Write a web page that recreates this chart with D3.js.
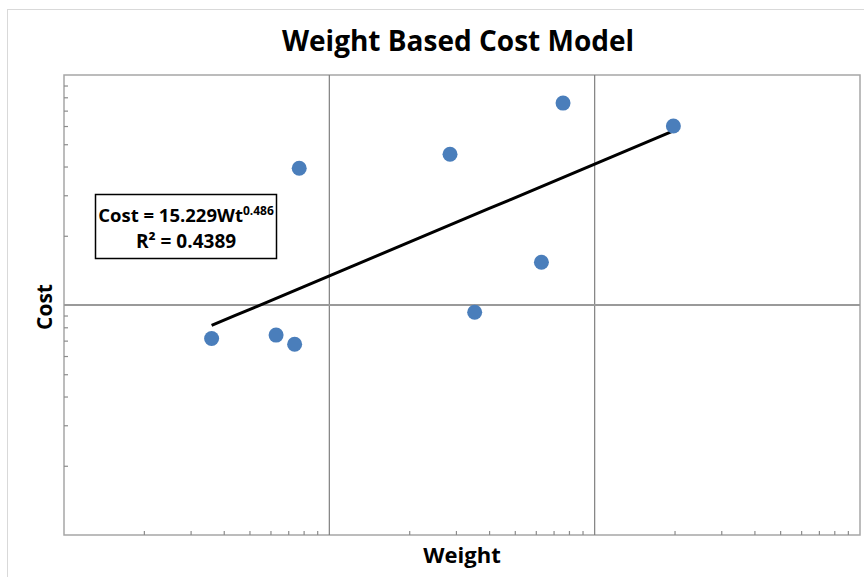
<!DOCTYPE html>
<html>
<head>
<meta charset="utf-8">
<script src="https://cdn.jsdelivr.net/npm/d3@7"></script>
<style>
  body { margin: 0; background: #fff; }
  text { font-family: "Open Sans", "DejaVu Sans", sans-serif; font-weight: bold; fill: #000; }
</style>
</head>
<body>
<svg id="chart" width="864" height="577"></svg>
<script>
// data (log-log scatter)
var weights = [3600, 6300, 7400, 7700, 28500, 35300, 63000, 76000, 198000]
var costs = [715, 740, 675, 3930, 4520, 930, 1535, 7550, 6000]

// power fit shown in the label
var fitCoef = 15.229
var fitExp = 0.486
var rSquared = '0.4389'

var xDomain = [1000, 1000000]
var yDomain = [100, 10000]

var svg = d3.select('#chart')
var plot = { left: 64, right: 860, top: 75, bottom: 535 }

var x = d3.scaleLog().domain(xDomain).range([plot.left, plot.right])
var y = d3.scaleLog().domain(yDomain).range([plot.bottom, plot.top])

// outer chart frame
svg.append('rect')
  .attr('x', 7.5).attr('y', 9.5).attr('width', 880).attr('height', 600)
  .attr('fill', 'none').attr('stroke', '#d9d9d9')

svg.append('text')
  .attr('x', 458).attr('y', 51)
  .attr('text-anchor', 'middle')
  .style('font-size', '28px')
  .text('Weight Based Cost Model')

// plot frame
svg.append('rect')
  .attr('x', plot.left).attr('y', plot.top)
  .attr('width', plot.right - plot.left).attr('height', plot.bottom - plot.top)
  .attr('fill', 'none').attr('stroke', '#a6a6a6').attr('stroke-width', 1.5)

// major gridlines at the decades inside the plot
var xMajor = [10000, 100000]
var yMajor = [1000]
svg.append('g').selectAll('line').data(xMajor).join('line')
  .attr('x1', d => x(d)).attr('x2', d => x(d))
  .attr('y1', plot.top).attr('y2', plot.bottom)
  .attr('stroke', '#7f7f7f').attr('stroke-width', 1.2)
svg.append('g').selectAll('line').data(yMajor).join('line')
  .attr('x1', plot.left).attr('x2', plot.right)
  .attr('y1', d => y(d)).attr('y2', d => y(d))
  .attr('stroke', '#9a9a9a').attr('stroke-width', 2)

// minor ticks, no labels
var xAxis = d3.axisTop(x).tickSizeInner(4).tickSizeOuter(0).tickFormat('')
  .tickValues(x.ticks().filter(d => xMajor.indexOf(d) < 0 && d > xDomain[0] && d < xDomain[1]))
var gx = svg.append('g').attr('transform', 'translate(0,' + plot.bottom + ')').call(xAxis)
gx.select('.domain').remove()
gx.selectAll('line').attr('stroke', '#8c8c8c').attr('stroke-width', 1.2)

var yAxis = d3.axisRight(y).tickSizeInner(4).tickSizeOuter(0).tickFormat('')
  .tickValues(y.ticks().filter(d => yMajor.indexOf(d) < 0 && d > yDomain[0] && d < yDomain[1]))
var gy = svg.append('g').attr('transform', 'translate(' + plot.left + ',0)').call(yAxis)
gy.select('.domain').remove()
gy.selectAll('line').attr('stroke', '#8c8c8c').attr('stroke-width', 1.2)

// trend line
var xMin = d3.min(weights)
var xMax = d3.max(weights)
var trend = d3.range(0, 21).map(function (i) {
  var w = Math.exp(Math.log(xMin) + (Math.log(xMax) - Math.log(xMin)) * i / 20)
  return [w, fitCoef * Math.pow(w, fitExp)]
})
svg.append('path')
  .datum(trend)
  .attr('d', d3.line().x(d => x(d[0])).y(d => y(d[1])))
  .attr('fill', 'none').attr('stroke', '#000').attr('stroke-width', 3)

// points
svg.append('g').selectAll('circle').data(weights).join('circle')
  .attr('cx', d => x(d))
  .attr('cy', (d, i) => y(costs[i]))
  .attr('r', 7.5)
  .attr('fill', '#4a7ebb')

// equation box
var box = svg.append('g')
box.append('rect')
  .attr('x', 95.5).attr('y', 194.5).attr('width', 181).attr('height', 64)
  .attr('fill', '#fff').attr('stroke', '#000').attr('stroke-width', 1.5)
var eq = box.append('text').attr('x', 186).attr('y', 222).attr('text-anchor', 'middle')
  .style('font-size', '18.5px')
eq.append('tspan').text('Cost = ' + fitCoef + 'Wt')
eq.append('tspan').attr('dy', -7).style('font-size', '12px').text(fitExp)
box.append('text').attr('x', 186).attr('y', 248).attr('text-anchor', 'middle')
  .style('font-size', '19px')
  .text('R² = ' + rSquared)

// axis titles
svg.append('text')
  .attr('x', 462).attr('y', 563)
  .attr('text-anchor', 'middle')
  .style('font-size', '22px')
  .text('Weight')
svg.append('text')
  .attr('transform', 'translate(52,307) rotate(-90)')
  .attr('text-anchor', 'middle')
  .style('font-size', '21px')
  .text('Cost')
</script>
</body>
</html>
